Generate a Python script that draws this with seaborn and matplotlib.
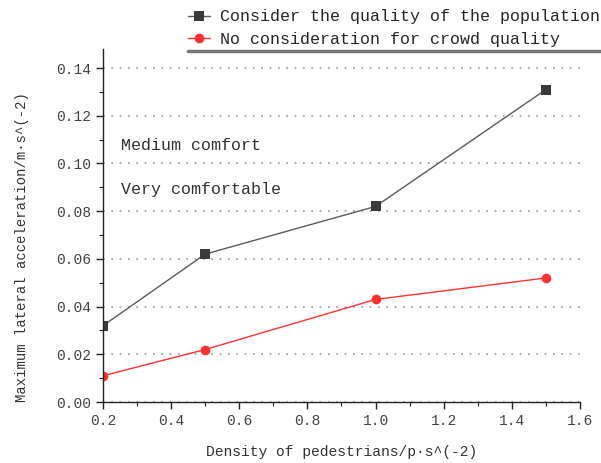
import matplotlib
matplotlib.use("Agg")
import matplotlib.pyplot as plt
import seaborn as sns
import pandas as pd
from matplotlib.lines import Line2D
from matplotlib.ticker import MultipleLocator

# Pedestrian density (p/m^2) and peak lateral acceleration
density = [0.2, 0.5, 1.0, 1.5]
with_quality = [0.032, 0.062, 0.082, 0.131]
without_quality = [0.011, 0.022, 0.043, 0.052]
series_names = ["Consider the quality of the population",
                "No consideration for crowd quality"]
x_ticks = [0.2, 0.4, 0.6, 0.8, 1.0, 1.2, 1.4, 1.6]
y_ticks = [0.00, 0.02, 0.04, 0.06, 0.08, 0.10, 0.12, 0.14]

df = pd.DataFrame({
    "density": density * 2,
    "acc": with_quality + without_quality,
    "series": [series_names[0]] * len(density) + [series_names[1]] * len(density),
})

sns.set_style("ticks")
plt.rcParams["font.family"] = ["Liberation Mono", "DejaVu Sans Mono"]

fig = plt.figure(figsize=(6.01, 4.63), dpi=100)
ax = fig.add_axes([103 / 601, 1 - 402 / 463, 477 / 601, (402 - 49) / 463])

palette = {series_names[0]: "#3a3a3a", series_names[1]: "#ff3030"}
sns.lineplot(data=df, x="density", y="acc", hue="series", style="series",
             markers={series_names[0]: "s", series_names[1]: "o"},
             dashes=False, palette=palette, markersize=7, linewidth=1.0,
             markeredgewidth=0, ax=ax, legend=False)
# lighter connecting line for the black series
ax.lines[0].set_color("#5a5a5a")
ax.lines[0].set_markerfacecolor("#3a3a3a")

ax.set_xlim(0.2, 1.6)
ax.set_ylim(0, 0.148)
ax.set_xticks(x_ticks)
ax.set_yticks(y_ticks)
ax.set_xticklabels([f"{v:.1f}" for v in x_ticks])
ax.set_yticklabels([f"{v:.2f}" for v in y_ticks])
ax.xaxis.set_minor_locator(MultipleLocator(0.1))
ax.yaxis.set_minor_locator(MultipleLocator(0.01))
ax.tick_params(which="major", direction="out", length=5, width=1.0,
               labelsize=10.5, colors="#222222", labelcolor="#444444")
ax.tick_params(which="minor", direction="out", length=3, width=0.8, colors="#222222")

for s in ["top", "right"]:
    ax.spines[s].set_visible(False)
for s in ["left", "bottom"]:
    ax.spines[s].set_color("#222222")
    ax.spines[s].set_linewidth(1.0)

ax.yaxis.grid(True, linestyle=(0, (1, 4)), color="#999999", linewidth=1.2)
ax.xaxis.grid(False)

ax.set_xlabel("Density of pedestrians/p·s^(-2)", fontsize=10.5, color="#333333")
ax.xaxis.set_label_coords(0.5, -(452 - 402) / 353)
ax.xaxis.label.set_va("center")
ax.set_ylabel("Maximum lateral acceleration/m·s^(-2)", fontsize=10,
              color="#333333")
ax.yaxis.set_label_coords(-(103 - 22) / 477, (402 - 247) / 353)
ax.yaxis.label.set_va("center")

ax.text(0.253, 0.1077, "Medium comfort", fontsize=12, color="#333333", va="center")
ax.text(0.253, 0.0889, "Very comfortable", fontsize=12, color="#333333", va="center")

handles = [
    Line2D([], [], color="#5a5a5a", marker="s", markerfacecolor="#3a3a3a",
           markeredgewidth=0, markersize=7, linewidth=1.0),
    Line2D([], [], color="#ff3030", marker="o", markeredgewidth=0,
           markersize=7, linewidth=1.0),
]
fig.legend(handles, series_names, loc="upper left",
           bbox_to_anchor=(185 / 601, 1 - 6 / 463), frameon=False,
           fontsize=12, handlelength=1.3, handletextpad=0.6,
           labelspacing=0.43, borderaxespad=0, borderpad=0.2)
fig.add_artist(Line2D([188 / 601, 1.0], [1 - 51 / 463] * 2, color="#777777",
                      linewidth=2.5, transform=fig.transFigure))

fig.savefig("out.png", dpi=100)
